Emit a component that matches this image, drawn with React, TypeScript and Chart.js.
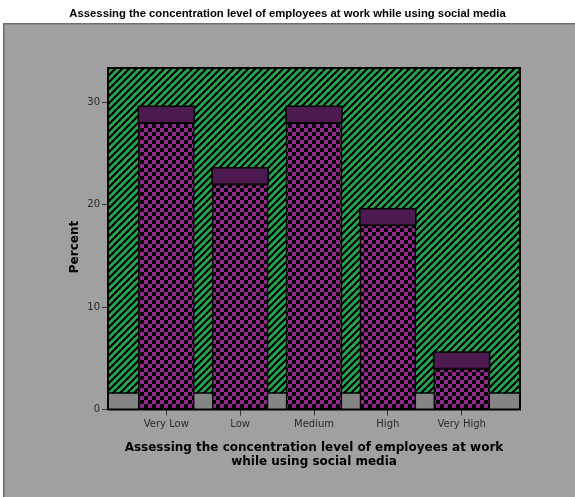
import React, { useEffect, useRef } from "react";
import { Chart, registerables } from "chart.js";

Chart.register(...registerables);

// Chart content
const chartTitle = "Assessing the concentration level of employees at work while using social media";
const categories = ["Very Low", "Low", "Medium", "High", "Very High"];
const percents = [28.0, 22.0, 28.0, 18.0, 4.0];
const yTickValues = [0, 10, 20, 30];
const yAxisTitle = "Percent";
const xAxisTitleLines = ["Assessing the concentration level of employees at work", "while using social media"];

// Look
const PAGE_W = 575;
const PAGE_H = 497;
const PANEL_GRAY = "#a0a0a0";
const FLOOR_GRAY = "#858585";
const WALL_GREEN = "#21a04a";
const BAR_MAGENTA = "#93298f";
const CAP_PURPLE = "#4c1a4e";
const DEPTH_PX = 16.5;

function makeHatch(ctx: CanvasRenderingContext2D) {
  const n = 7;
  const c = document.createElement("canvas");
  c.width = n;
  c.height = n;
  const g = c.getContext("2d")!;
  g.fillStyle = WALL_GREEN;
  g.fillRect(0, 0, n, n);
  g.fillStyle = "#000";
  for (let x = 0; x < n; x++) {
    for (let y = 0; y < n; y++) {
      if ((x + y) % n < 3) g.fillRect(x, y, 1, 1);
    }
  }
  return ctx.createPattern(c, "repeat")!;
}

function makeChecker(ctx: CanvasRenderingContext2D) {
  const c = document.createElement("canvas");
  c.width = 8;
  c.height = 8;
  const g = c.getContext("2d")!;
  g.fillStyle = "#000";
  g.fillRect(0, 0, 8, 8);
  g.fillStyle = BAR_MAGENTA;
  g.fillRect(0, 0, 4, 4);
  g.fillRect(4, 4, 4, 4);
  return ctx.createPattern(c, "repeat")!;
}

export default function App() {
  const canvasRef = useRef<HTMLCanvasElement | null>(null);

  useEffect(() => {
    document.body.style.margin = "0";
    const canvas = canvasRef.current!;
    const ctx = canvas.getContext("2d")!;
    const hatch = makeHatch(ctx);
    const checker = makeChecker(ctx);

    // gray panel behind everything
    const panelPlugin = {
      id: "panel",
      beforeDraw(chart: any) {
        const c = chart.ctx;
        c.save();
        c.fillStyle = "#fff";
        c.fillRect(0, 0, PAGE_W, PAGE_H);
        c.fillStyle = PANEL_GRAY;
        c.fillRect(3, 23, PAGE_W, PAGE_H);
        c.strokeStyle = "#6e6e6e";
        c.lineWidth = 1.5;
        c.beginPath();
        c.moveTo(3.75, PAGE_H);
        c.lineTo(3.75, 23.75);
        c.lineTo(PAGE_W, 23.75);
        c.stroke();
        c.restore();
      },
    };

    // hatched back wall and floor strip of the plot
    const wallPlugin = {
      id: "wall",
      beforeDatasetsDraw(chart: any) {
        const { ctx: c, chartArea: a } = chart;
        c.save();
        c.fillStyle = hatch;
        c.fillRect(a.left, a.top, a.right - a.left, a.bottom - a.top);
        c.fillStyle = FLOOR_GRAY;
        c.fillRect(a.left, a.bottom - DEPTH_PX, a.right - a.left, DEPTH_PX);
        c.strokeStyle = "#000";
        c.lineWidth = 1.5;
        c.beginPath();
        c.moveTo(a.left, a.bottom - DEPTH_PX);
        c.lineTo(a.right, a.bottom - DEPTH_PX);
        c.stroke();
        c.restore();
      },
      afterDatasetsDraw(chart: any) {
        const { ctx: c, chartArea: a } = chart;
        c.save();
        // top faces of the bars
        const meta = chart.getDatasetMeta(0);
        meta.data.forEach((bar: any) => {
          const p = bar.getProps(["x", "y", "width"], true);
          const left = p.x - p.width / 2;
          c.fillStyle = CAP_PURPLE;
          c.fillRect(left, p.y - DEPTH_PX, p.width, DEPTH_PX);
          c.strokeStyle = "#000";
          c.lineWidth = 1.5;
          c.strokeRect(left, p.y - DEPTH_PX, p.width, DEPTH_PX);
        });
        // plot frame
        c.strokeStyle = "#000";
        c.lineWidth = 2;
        c.strokeRect(a.left, a.top, a.right - a.left, a.bottom - a.top);
        c.restore();
      },
    };

    // titles
    const textPlugin = {
      id: "texts",
      afterDraw(chart: any) {
        const { ctx: c, chartArea: a } = chart;
        c.save();
        c.fillStyle = "#000";
        c.textAlign = "center";
        c.textBaseline = "middle";
        c.font = "bold 11.3px 'Liberation Sans Narrow', 'Liberation Sans', Arial, sans-serif";
        c.fillText(chartTitle, PAGE_W / 2, 14);

        c.font = "bold 12px 'DejaVu Sans', Verdana, sans-serif";
        const cx = (a.left + a.right) / 2;
        c.fillText(xAxisTitleLines[0], cx, 448);
        c.fillText(xAxisTitleLines[1], cx, 462);

        c.translate(75, 247);
        c.rotate(-Math.PI / 2);
        c.fillText(yAxisTitle, 0, 0);
        c.restore();
      },
    };

    const chart = new Chart(ctx, {
      type: "bar",
      data: {
        datasets: [
          {
            data: percents.map((v, i) => ({ x: i, y: v })),
            backgroundColor: checker,
            borderColor: "#000",
            borderWidth: 1.5,
            borderSkipped: false,
            barThickness: 56,
          },
        ],
      },
      options: {
        animation: false,
        responsive: false,
        devicePixelRatio: 1,
        layout: { padding: { top: 68, right: 55, left: 0, bottom: 0 } },
        plugins: {
          legend: { display: false },
          tooltip: { enabled: false },
          title: { display: false },
        },
        scales: {
          x: {
            type: "linear",
            offset: false,
            min: -0.79,
            max: 4.79,
            afterBuildTicks(scale: any) {
              scale.ticks = categories.map((_, i) => ({ value: i }));
            },
            afterFit(scale: any) {
              scale.height = 87.5;
            },
            ticks: {
              autoSkip: false,
              maxRotation: 0,
              padding: 3,
              color: "#2a2a2a",
              font: { family: "'DejaVu Sans', Verdana, sans-serif", size: 10 },
              callback: (v: any) => categories[v as number] ?? "",
            },
            grid: { offset: false, drawOnChartArea: false, drawTicks: true, tickLength: 6, color: "#333", lineWidth: 1 },
            border: { display: false },
          },
          y: {
            min: 0,
            max: 33.35,
            afterBuildTicks(scale: any) {
              scale.ticks = yTickValues.map((v) => ({ value: v }));
            },
            afterFit(scale: any) {
              scale.width = 108;
            },
            ticks: {
              padding: 2,
              color: "#2a2a2a",
              font: { family: "'DejaVu Sans', Verdana, sans-serif", size: 10 },
            },
            grid: { drawOnChartArea: false, drawTicks: true, tickLength: 6, color: "#333", lineWidth: 1 },
            border: { display: false },
          },
        },
      },
      plugins: [panelPlugin, wallPlugin, textPlugin],
    } as any);

    return () => chart.destroy();
  }, []);

  return (
    <canvas
      ref={canvasRef}
      width={PAGE_W}
      height={PAGE_H}
      style={{ display: "block", width: PAGE_W, height: PAGE_H }}
    />
  );
}
